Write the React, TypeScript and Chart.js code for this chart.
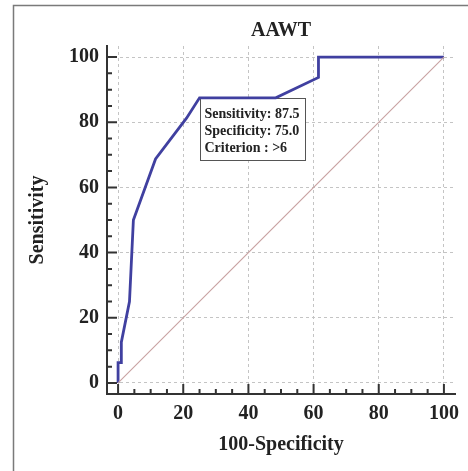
import React, { useEffect, useRef } from "react";
import { Chart, registerables } from "chart.js";

Chart.register(...registerables);

const chartTitle = "AAWT";
const xAxisTitle = "100-Specificity";
const yAxisTitle = "Sensitivity";

// ROC curve points (100-Specificity, Sensitivity)
const oneMinusSpecificity = [0, 0, 1, 1, 3.5, 4.7, 11.5, 21, 25, 48.4, 61.5, 61.5, 100];
const sensitivity = [0, 6.25, 6.25, 12.5, 25, 50, 68.75, 81.25, 87.5, 87.5, 93.75, 100, 100];

// Reference (chance) diagonal
const refX = [0, 100];
const refY = [0, 100];

const majorTicks = [0, 20, 40, 60, 80, 100];
const minorTicks = [5, 10, 15, 25, 30, 35, 45, 50, 55, 65, 70, 75, 85, 90, 95];

const criterionX = 25;
const criterionY = 87.5;
const criterionLines = ["Sensitivity: 87.5", "Specificity: 75.0", "Criterion : >6"];

const FONT = "'Liberation Serif', 'Times New Roman', serif";

const decorPlugin = {
  id: "decor",
  beforeDraw(chart: any) {
    const ctx = chart.ctx;
    ctx.save();
    ctx.fillStyle = "#ffffff";
    ctx.fillRect(0, 0, chart.width, chart.height);
    ctx.strokeStyle = "#7a7a7a";
    ctx.lineWidth = 1.5;
    ctx.beginPath();
    ctx.moveTo(13.5, chart.height);
    ctx.lineTo(13.5, 5.5);
    ctx.lineTo(chart.width, 5.5);
    ctx.stroke();
    ctx.restore();
  },
  beforeDatasetsDraw(chart: any) {
    const ctx = chart.ctx;
    const xs = chart.scales.x;
    const ys = chart.scales.y;
    const left = Math.round(xs.getPixelForValue(criterionX)) + 0.5;
    const top = Math.round(ys.getPixelForValue(criterionY)) + 0.5;
    ctx.save();
    ctx.font = `bold 14px ${FONT}`;
    let w = 0;
    criterionLines.forEach((t) => {
      w = Math.max(w, ctx.measureText(t).width);
    });
    const boxW = Math.round(w + 10);
    const boxH = 62;
    ctx.fillStyle = "#ffffff";
    ctx.fillRect(left, top, boxW, boxH);
    ctx.strokeStyle = "#555555";
    ctx.lineWidth = 1;
    ctx.strokeRect(left, top, boxW, boxH);
    ctx.fillStyle = "#222222";
    ctx.textBaseline = "middle";
    ctx.textAlign = "left";
    criterionLines.forEach((t, i) => {
      ctx.fillText(t, left + 4, top + 16 + i * 17);
    });
    ctx.restore();
  },
  afterDraw(chart: any) {
    const ctx = chart.ctx;
    const xs = chart.scales.x;
    const ys = chart.scales.y;
    const { left, bottom } = chart.chartArea;
    ctx.save();
    ctx.strokeStyle = "#333333";
    ctx.lineWidth = 2;
    ctx.beginPath();
    majorTicks.forEach((v) => {
      const px = xs.getPixelForValue(v);
      ctx.moveTo(px, bottom);
      ctx.lineTo(px, bottom - 10);
      const py = ys.getPixelForValue(v);
      ctx.moveTo(left, py);
      ctx.lineTo(left + 10, py);
    });
    minorTicks.forEach((v) => {
      const px = xs.getPixelForValue(v);
      ctx.moveTo(px, bottom);
      ctx.lineTo(px, bottom - 5);
      const py = ys.getPixelForValue(v);
      ctx.moveTo(left, py);
      ctx.lineTo(left + 5, py);
    });
    ctx.stroke();
    ctx.restore();
  },
};

export default function App() {
  const canvasRef = useRef<HTMLCanvasElement | null>(null);

  useEffect(() => {
    const canvas = canvasRef.current;
    if (!canvas) return;
    const rocData = oneMinusSpecificity.map((x, i) => ({ x, y: sensitivity[i] }));
    const refData = refX.map((x, i) => ({ x, y: refY[i] }));
    const tickFont = { family: FONT, size: 20, weight: "bold" as const };
    const gridCommon = {
      display: true,
      color: "#c4c4c4",
      lineWidth: 1,
      drawTicks: false,
    };
    const chart = new Chart(canvas, {
      type: "scatter",
      data: {
        datasets: [
          {
            data: refData,
            showLine: true,
            borderColor: "#c9a3a3",
            borderWidth: 1.2,
            pointRadius: 0,
            tension: 0,
          },
          {
            data: rocData,
            showLine: true,
            borderColor: "#4040a0",
            borderWidth: 2.8,
            pointRadius: 0,
            tension: 0,
          },
        ],
      },
      options: {
        responsive: false,
        animation: false,
        devicePixelRatio: 1,
        layout: { padding: { left: 14, right: 13, top: 0, bottom: 0 } },
        plugins: {
          legend: { display: false },
          tooltip: { enabled: false },
          title: {
            display: true,
            fullSize: false,
            text: chartTitle,
            color: "#222222",
            font: { family: FONT, size: 20, weight: "bold" },
            padding: { top: 19, bottom: 3 },
          },
        },
        scales: {
          x: {
            type: "linear",
            min: -3.4,
            max: 103.4,
            afterBuildTicks: (scale: any) => {
              scale.ticks = majorTicks.map((v) => ({ value: v }));
            },
            afterFit: (scale: any) => {
              scale.height = 77;
            },
            grid: { ...gridCommon },
            border: { display: true, color: "#333333", width: 2, dash: [3, 3] } as any,
            ticks: {
              color: "#222222",
              font: tickFont,
              padding: 7.5,
              maxRotation: 0,
              autoSkip: false,
            },
            title: {
              display: true,
              text: xAxisTitle,
              color: "#222222",
              font: { family: FONT, size: 20, weight: "bold" },
              padding: { top: 0, bottom: 14 },
            },
          },
          y: {
            type: "linear",
            min: -3.4,
            max: 103.4,
            afterBuildTicks: (scale: any) => {
              scale.ticks = majorTicks.map((v) => ({ value: v }));
            },
            afterFit: (scale: any) => {
              scale.width = 93;
            },
            grid: { ...gridCommon },
            border: { display: true, color: "#333333", width: 2, dash: [3, 3] } as any,
            ticks: {
              color: "#222222",
              font: tickFont,
              padding: 8,
              autoSkip: false,
            },
            title: {
              display: true,
              text: yAxisTitle,
              color: "#222222",
              font: { family: FONT, size: 20, weight: "bold" },
              padding: { top: 12, bottom: 0 },
            },
          },
        },
      },
      plugins: [decorPlugin],
    });
    return () => chart.destroy();
  }, []);

  return (
    <div style={{ position: "fixed", left: 0, top: 0, width: 468, height: 471 }}>
      <canvas ref={canvasRef} width={468} height={471} style={{ width: 468, height: 471 }} />
    </div>
  );
}
